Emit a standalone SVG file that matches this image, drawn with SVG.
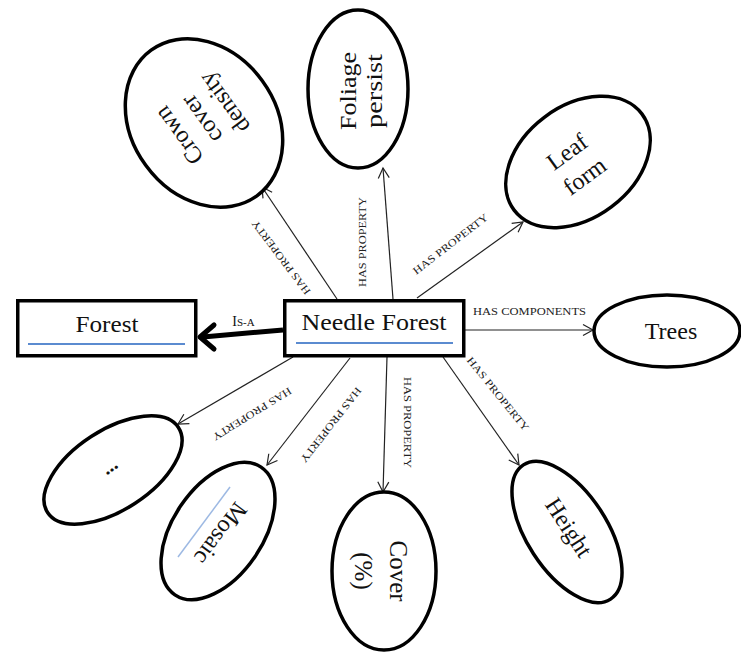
<svg xmlns="http://www.w3.org/2000/svg" width="741" height="653" viewBox="0 0 741 653">
<style>
.node{fill:#fff;stroke:#000;stroke-width:3.5}
.box{fill:#fff;stroke:#000;stroke-width:3.5}
.t{font-family:"Liberation Serif","Times New Roman",serif;font-size:24px;fill:#111;text-anchor:middle}
.lbl{font-family:"Liberation Serif","Times New Roman",serif;font-size:10.5px;fill:#222;text-anchor:middle;dominant-baseline:central}
.conn{stroke:#222;stroke-width:1.2;fill:none;marker-end:url(#open)}
.blue{stroke:#5B8BD0;stroke-width:2}
</style>
<defs>
<marker id="open" viewBox="-12 -8 14 16" refX="0" refY="0" markerWidth="14" markerHeight="16" markerUnits="userSpaceOnUse" orient="auto">
<path d="M-10,-5.5 L0,0 L-10,5.5" fill="none" stroke="#222" stroke-width="1.2"/>
</marker>
</defs>
<rect width="741" height="653" fill="#fff"/>

<g id="connectors">
<line class="conn" x1="337" y1="299" x2="262" y2="187"/>
<line class="conn" x1="393" y1="299" x2="383" y2="168"/>
<line class="conn" x1="417" y1="298" x2="523" y2="222"/>
<line class="conn" x1="465" y1="330" x2="593" y2="330"/>
<line class="conn" x1="443" y1="357" x2="519" y2="465"/>
<line class="conn" x1="387" y1="357" x2="383" y2="492"/>
<line class="conn" x1="350" y1="358" x2="267" y2="465"/>
<line class="conn" x1="293" y1="357" x2="178" y2="424"/>
<line x1="283" y1="330" x2="203" y2="337" stroke="#000" stroke-width="5"/>
<path d="M214,325 L200,337 L214,349" fill="none" stroke="#000" stroke-width="5" stroke-linejoin="round" stroke-linecap="round"/>
<text class="lbl" transform="translate(281,257.5) rotate(-127)" textLength="90" lengthAdjust="spacingAndGlyphs">HAS PROPERTY</text>
<text class="lbl" transform="translate(362,242) rotate(-90)" textLength="90" lengthAdjust="spacingAndGlyphs">HAS PROPERTY</text>
<text class="lbl" transform="translate(450.5,244) rotate(-37.7)" textLength="92" lengthAdjust="spacingAndGlyphs">HAS PROPERTY</text>
<text class="lbl" transform="translate(529.5,311.5)" textLength="113" lengthAdjust="spacingAndGlyphs">HAS COMPONENTS</text>
<text class="lbl" transform="translate(498,394) rotate(51)" textLength="92" lengthAdjust="spacingAndGlyphs">HAS PROPERTY</text>
<text class="lbl" transform="translate(407,422.5) rotate(90)" textLength="91" lengthAdjust="spacingAndGlyphs">HAS PROPERTY</text>
<text class="lbl" transform="translate(331,425) rotate(128)" textLength="92" lengthAdjust="spacingAndGlyphs">HAS PROPERTY</text>
<text class="lbl" transform="translate(252,414) rotate(148)" textLength="91" lengthAdjust="spacingAndGlyphs">HAS PROPERTY</text>
<text x="243.5" y="326" font-family="'Liberation Serif','Times New Roman',serif" fill="#111" text-anchor="middle"><tspan font-size="14">I</tspan><tspan font-size="11">S-A</tspan></text>
</g>

<g id="node-forest">
<rect class="box" x="17.75" y="300.75" width="178" height="55"/>
<text class="t" x="107" y="332" textLength="63" lengthAdjust="spacingAndGlyphs">Forest</text>
<line class="blue" x1="28" y1="344" x2="185" y2="344"/>
</g>

<g id="node-needle-forest">
<rect class="box" x="284.75" y="300.75" width="179" height="55"/>
<text class="t" x="374" y="330" textLength="145" lengthAdjust="spacingAndGlyphs">Needle Forest</text>
<line class="blue" x1="296" y1="343" x2="453" y2="343"/>
</g>

<g id="node-crown">
<ellipse class="node" cx="204" cy="123" rx="90" ry="72" transform="rotate(54 204 123)"/>
<text class="t" transform="translate(203,118) rotate(-126)"><tspan x="0" y="-22">Crown</tspan><tspan x="0" y="6">cover</tspan><tspan x="0" y="34">density</tspan></text>
</g>

<g id="node-foliage">
<ellipse class="node" cx="358" cy="89" rx="50" ry="79"/>
<text class="t" transform="translate(369,91) rotate(-90)"><tspan x="0" y="-13" textLength="78" lengthAdjust="spacingAndGlyphs">Foliage</tspan><tspan x="0" y="13" textLength="74" lengthAdjust="spacingAndGlyphs">persist</tspan></text>
</g>

<g id="node-leaf">
<ellipse class="node" cx="578" cy="162" rx="80" ry="56" transform="rotate(-37 578 162)"/>
<text class="t" transform="translate(577,165.5) rotate(-36)"><tspan x="0" y="-9">Leaf</tspan><tspan x="0" y="21">form</tspan></text>
</g>

<g id="node-trees">
<ellipse class="node" cx="667" cy="331" rx="73" ry="36"/>
<text class="t" x="671" y="339">Trees</text>
</g>

<g id="node-height">
<ellipse class="node" cx="567" cy="532" rx="80" ry="40" transform="rotate(57 567 532)"/>
<text class="t" transform="translate(568,528) rotate(57)" y="7">Height</text>
</g>

<g id="node-cover">
<ellipse class="node" cx="384" cy="571" rx="52" ry="79"/>
<text class="t" style="font-size:25px" transform="translate(379.5,571) rotate(90)"><tspan x="0" y="-10.5">Cover</tspan><tspan x="0" y="24.5">(%)</tspan></text>
</g>

<g id="node-mosaic">
<ellipse class="node" cx="218" cy="531" rx="77" ry="45" transform="rotate(-56 218 531)"/>
<text class="t" transform="translate(220,533) rotate(127)" y="7">Mosaic</text>
<line x1="230" y1="487" x2="178" y2="557" stroke="#9DB9E3" stroke-width="1.5"/>
</g>

<g id="node-etc">
<ellipse class="node" cx="113" cy="470" rx="78" ry="40" transform="rotate(-33 113 470)"/>
<text class="t" style="font-weight:bold;font-size:20px" transform="translate(110,467) rotate(-35)" y="5">...</text>
</g>
</svg>
